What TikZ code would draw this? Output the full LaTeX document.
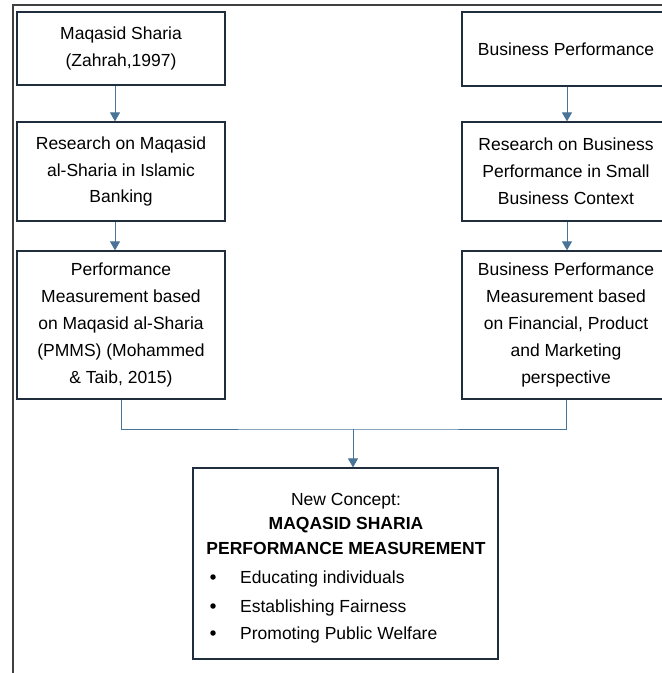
\documentclass[tikz,border=0pt]{standalone}
\usepackage{fontspec}
\setmainfont{Liberation Sans}
\usetikzlibrary{arrows.meta,calc}
\definecolor{boxline}{HTML}{1F2D3D}
\definecolor{conn}{HTML}{4A7497}
\definecolor{frame}{HTML}{404040}
\tikzset{
  box/.style={draw=boxline,line width=1.3pt,minimum width=208pt,align=center,inner sep=0pt,
    font=\fontsize{17.5}{26.8}\selectfont},
  link/.style={draw=conn,line width=1pt},
  arr/.style={link,-{Triangle[length=9pt,width=10pt]}},
  txt/.style={anchor=base,inner sep=0pt,font=\fontsize{17.5}{21}\selectfont},
  bul/.style={fill=black,circle,inner sep=0pt,minimum size=5.5pt}
}
\begin{document}
\begin{tikzpicture}[x=1pt,y=-1pt]
\useasboundingbox (0,0) rectangle (662,673);
\clip (0,0) rectangle (662,673);
\fill[white] (0,0) rectangle (662,673);
% outer frame
\draw[frame,line width=1.5pt] (13,673) -- (13,5) -- (662,5);
% left column
\node[box,minimum height=73pt] (L1) at (121,48.5) {Maqasid Sharia\\(Zahrah,1997)};
\node[box,minimum height=99pt] (L2) at (121,171.5) {Research on Maqasid\\al-Sharia in Islamic\\Banking};
\node[box,minimum height=148pt] (L3) at (121,325) {Performance\\Measurement based\\on Maqasid al-Sharia\\(PMMS) (Mohammed\\\& Taib, 2015)};
% right column
\node[box,minimum height=74pt] (R1) at (566,49) {Business Performance};
\node[box,minimum height=99pt] (R2) at (566,171.5) {Research on Business\\Performance in Small\\Business Context};
\node[box,minimum height=148pt] (R3) at (566,325) {Business Performance\\Measurement based\\on Financial, Product\\and Marketing\\perspective};
% bottom box
\node[draw=boxline,line width=1.3pt,minimum width=305pt,minimum height=191pt,inner sep=0pt] (N) at (345.5,563.5) {};
\node[txt] (t1) at (346,505) {New Concept:};
\node[txt,font=\fontsize{17.5}{21}\selectfont\bfseries] (t2) at (346,529) {MAQASID SHARIA};
\node[txt,font=\fontsize{17.5}{21}\selectfont\bfseries] (t3) at (346,554) {PERFORMANCE MEASUREMENT};
\node[txt,anchor=base west] (t4) at (240,583) {Educating individuals};
\node[txt,anchor=base west] (t5) at (240,612) {Establishing Fairness};
\node[txt,anchor=base west] (t6) at (240,639) {Promoting Public Welfare};
\node[bul] (b4) at (213,577) {};
\node[bul] (b5) at (213,606) {};
\node[bul] (b6) at (213,633) {};
% connectors
\coordinate (lx) at (115,0);
\coordinate (rx) at (567,0);
\coordinate (m) at (353,429);
\draw[arr] (lx |- L1.south) -- (lx |- L2.north);
\draw[arr] (lx |- L2.south) -- (lx |- L3.north);
\draw[arr] (rx |- R1.south) -- (rx |- R2.north);
\draw[arr] (rx |- R2.south) -- (rx |- R3.north);
\draw[link] (L3.south) |- (m) -| (R3.south);
\draw[arr] (m) -- (m |- N.north);
\end{tikzpicture}
\end{document}
